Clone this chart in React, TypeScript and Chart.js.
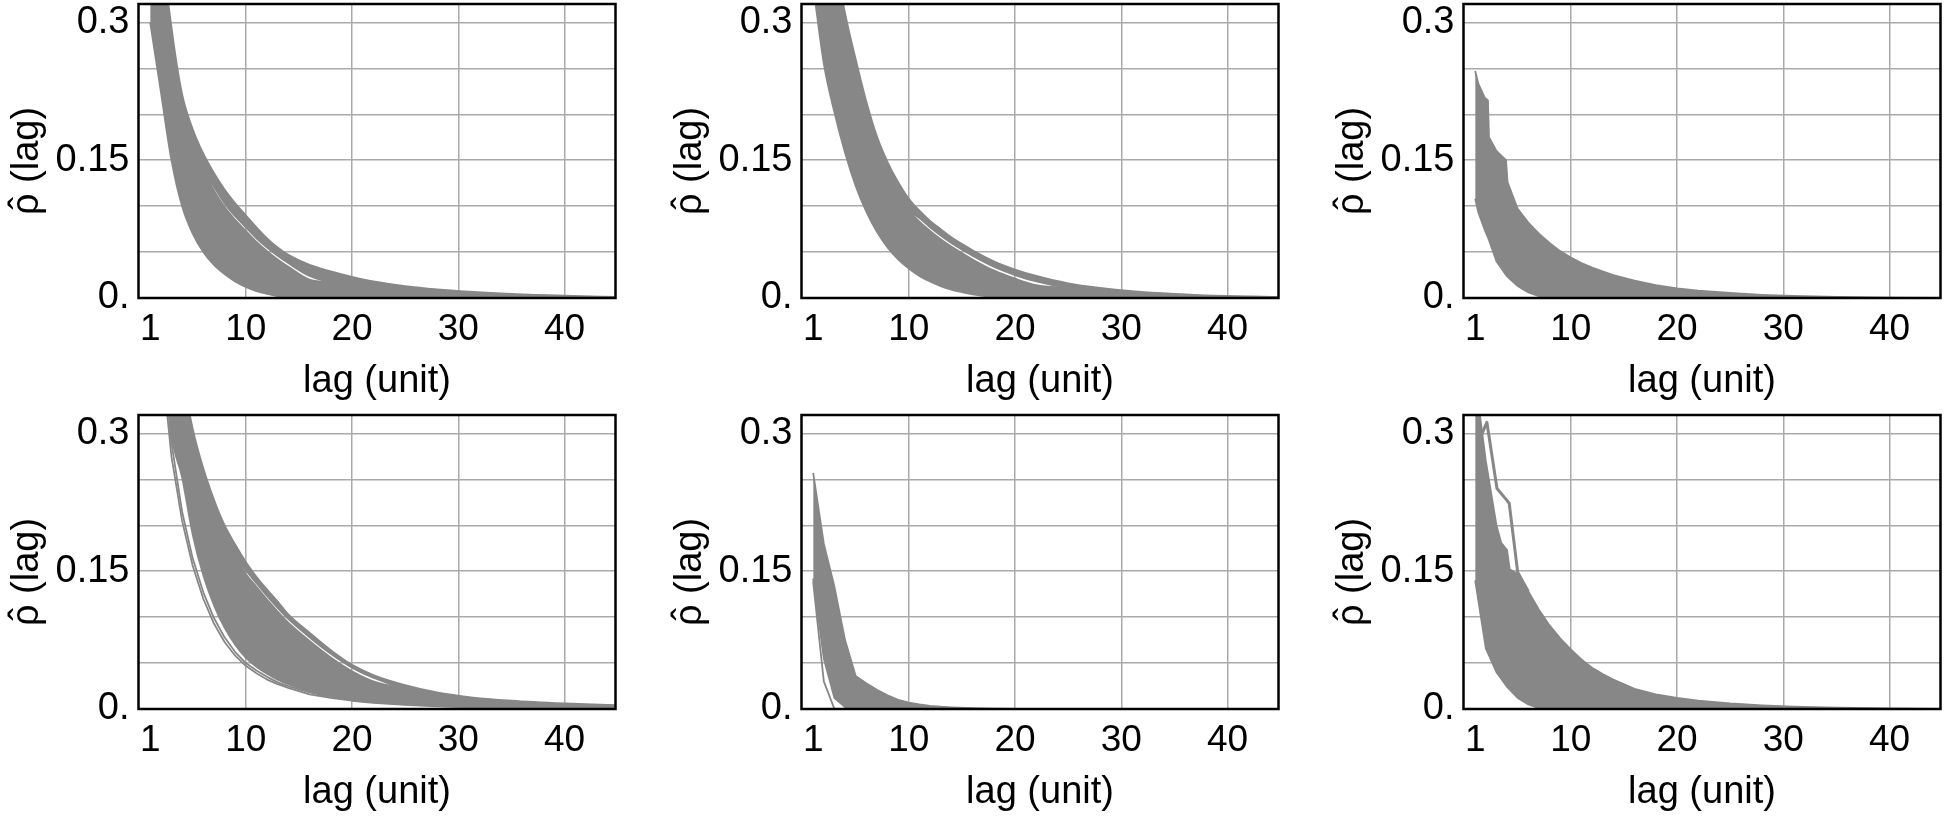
import React, { useEffect, useRef } from 'react';
import { Chart, registerables } from 'chart.js';

Chart.register(...registerables);
const FONT_FAMILY = "'Liberation Sans', Arial, sans-serif";
Chart.defaults.font.family = FONT_FAMILY;

// ---------- axes ----------
const X_TICKS = [1, 10, 20, 30, 40];
const X_MIN = -0.1;
const X_MAX = 44.8;
const Y_MIN = 0;
const Y_MAX = 0.32;
const Y_GRID_STEP = 0.05;
const Y_TICK_LABELS: Record<number, string> = { 0: '0.', 15: '0.15', 30: '0.3' };
const X_TITLE = 'lag (unit)';
const Y_TITLE_SYMBOL = 'ρ';
const Y_TITLE_HAT = '\u02C6';
const Y_TITLE_REST = ' (lag)';

// common lag grid
const LAGS = [1, 2, 3, 4, 5, 6, 7, 8, 9, 10, 11, 12, 13, 14, 16, 18, 20, 22, 25, 28, 31, 35, 40, 45];

// ---------- panel 1 (top left) ----------
const P1_LOWER = [0.300, 0.225, 0.150, 0.100, 0.070, 0.050, 0.036, 0.026, 0.018, 0.012, 0.0075, 0.0045, 0.0020, 0.0008, 0, 0, 0, 0, 0, 0, 0, 0, 0, 0];
const P1_GAP_BELOW = [0.45, 0.33, 0.25, 0.19, 0.16, 0.138, 0.117, 0.099, 0.085, 0.073, 0.061, 0.051, 0.042, 0.034, 0.020, 0.017, 0.012, 0.009, 0.0065, 0.0045, 0.003, 0.0018, 0.0009, 0.0004];
const P1_GAP_ABOVE = [0.45, 0.33, 0.25, 0.19, 0.16, 0.138, 0.121, 0.103, 0.089, 0.077, 0.065, 0.055, 0.046, 0.038, 0.024, 0.017, 0.012, 0.009, 0.0065, 0.0045, 0.003, 0.0018, 0.0009, 0.0004];
const P1_UPPER = [0.60, 0.40, 0.295, 0.222, 0.184, 0.157, 0.136, 0.118, 0.103, 0.090, 0.077, 0.065, 0.055, 0.047, 0.036, 0.029, 0.023, 0.018, 0.013, 0.0095, 0.007, 0.0045, 0.0025, 0.0012];

// ---------- panel 2 (top middle) ----------
const P2_LOWER = [0.340, 0.255, 0.202, 0.158, 0.122, 0.094, 0.072, 0.055, 0.042, 0.032, 0.024, 0.018, 0.013, 0.009, 0.004, 0.001, 0, 0, 0, 0, 0, 0, 0, 0];
const P2_GAP_BELOW = [0.50, 0.40, 0.33, 0.27, 0.225, 0.185, 0.152, 0.128, 0.110, 0.095, 0.083, 0.073, 0.064, 0.056, 0.042, 0.030, 0.021, 0.014, 0.011, 0.008, 0.005, 0.003, 0.0015, 0.0007];
const P2_GAP_ABOVE = [0.50, 0.40, 0.33, 0.27, 0.225, 0.185, 0.152, 0.128, 0.110, 0.095, 0.087, 0.077, 0.068, 0.060, 0.046, 0.034, 0.025, 0.018, 0.011, 0.008, 0.005, 0.003, 0.0015, 0.0007];
const P2_UPPER = [0.64, 0.48, 0.375, 0.31, 0.26, 0.214, 0.176, 0.148, 0.126, 0.108, 0.095, 0.084, 0.075, 0.066, 0.052, 0.040, 0.031, 0.024, 0.016, 0.011, 0.0075, 0.0045, 0.0022, 0.001];

// ---------- panel 3 (top right) ----------
const P3_LAGS = [1, 1.3, 1.9, 2.2, 2.3, 3, 3.9, 4.05, 5, 6, 7, 8, 9, 10, 11, 12, 14, 16, 18, 20, 22, 25, 28, 31, 35, 40, 45];
const P3_LOWER = [0.108, 0.093, 0.074, 0.066, 0.063, 0.040, 0.025, 0.023, 0.013, 0.006, 0.002, 0.0005, 0, 0, 0, 0, 0, 0, 0, 0, 0, 0, 0, 0, 0, 0, 0];
const P3_UPPER = [0.247, 0.233, 0.218, 0.215, 0.175, 0.160, 0.150, 0.126, 0.097, 0.082, 0.070, 0.060, 0.051, 0.044, 0.038, 0.033, 0.025, 0.019, 0.014, 0.0105, 0.008, 0.0055, 0.0035, 0.0022, 0.0012, 0.0005, 0.0002];

// ---------- panel 4 (bottom left) ----------
const P4_PAIR_A = [0.62, 0.39, 0.275, 0.205, 0.156, 0.120, 0.093, 0.073, 0.058, 0.047, 0.039, 0.032, 0.027, 0.023, 0.016, 0.012, 0.009, 0.0068, 0.0045, 0.003, 0.002, 0.001, 0.0005, 0.0002];
const P4_PAIR_B = [0.66, 0.41, 0.290, 0.215, 0.164, 0.127, 0.099, 0.078, 0.062, 0.050, 0.042, 0.035, 0.029, 0.025, 0.018, 0.013, 0.010, 0.0075, 0.005, 0.0033, 0.0022, 0.0012, 0.0006, 0.0003];
const P4_MAIN_LOWER = [0.70, 0.43, 0.300, 0.2525, 0.190, 0.1455, 0.113, 0.0885, 0.070, 0.056, 0.046, 0.0385, 0.032, 0.027, 0.0195, 0.0142, 0.011, 0.0082, 0.0055, 0.0037, 0.0025, 0.0014, 0.0007, 0.0004];
const P4_GAP_BELOW = [0.78, 0.52, 0.40, 0.31, 0.255, 0.225, 0.200, 0.182, 0.166, 0.147, 0.133, 0.119, 0.106, 0.094, 0.074, 0.056, 0.041, 0.030, 0.022, 0.015, 0.011, 0.0075, 0.005, 0.0033];
const P4_GAP_ABOVE = [0.78, 0.52, 0.40, 0.31, 0.255, 0.225, 0.200, 0.182, 0.166, 0.151, 0.137, 0.123, 0.110, 0.098, 0.078, 0.060, 0.045, 0.034, 0.022, 0.015, 0.011, 0.0075, 0.005, 0.0033];
const P4_UPPER = [0.85, 0.60, 0.48, 0.37, 0.305, 0.262, 0.228, 0.200, 0.179, 0.160, 0.144, 0.130, 0.117, 0.103, 0.083, 0.064, 0.048, 0.037, 0.026, 0.018, 0.013, 0.009, 0.006, 0.004];

// ---------- panel 5 (bottom middle) ----------
const P5_SEPARATE = [0.138, 0.030, 0, 0, 0, 0, 0, 0, 0, 0, 0, 0, 0, 0, 0, 0, 0, 0, 0, 0, 0, 0, 0, 0];
const P5_LOWER = [0.142, 0.055, 0.012, 0.002, 0, 0, 0, 0, 0, 0, 0, 0, 0, 0, 0, 0, 0, 0, 0, 0, 0, 0, 0, 0];
const P5_UPPER = [0.257, 0.180, 0.133, 0.075, 0.036, 0.028, 0.021, 0.015, 0.010, 0.007, 0.005, 0.0035, 0.0025, 0.0018, 0.0008, 0.0003, 0.0001, 0, 0, 0, 0, 0, 0, 0];

// ---------- panel 6 (bottom right) ----------
const P6_LAGS = [1, 2, 3, 3.45, 4, 4.25, 5, 6, 7, 8, 9, 10, 11, 12, 13, 14, 16, 18, 20, 22, 25, 28, 31, 35, 40, 45];
const P6_LOWER = [0.14, 0.066, 0.040, 0.033, 0.024, 0.021, 0.012, 0.005, 0.001, 0, 0, 0, 0, 0, 0, 0, 0, 0, 0, 0, 0, 0, 0, 0, 0, 0];
const P6_UPPER = [0.36, 0.27, 0.20, 0.181, 0.173, 0.152, 0.147, 0.128, 0.108, 0.091, 0.077, 0.065, 0.054, 0.045, 0.038, 0.032, 0.022, 0.016, 0.012, 0.009, 0.006, 0.004, 0.0025, 0.0014, 0.0006, 0.0002];
const P6_OUTLIER_LAGS = [1, 1.5, 2.1, 3.05, 3.85, 4.2, 5, 6];
const P6_OUTLIER = [0.345, 0.296, 0.312, 0.240, 0.229, 0.224, 0.149, 0.128];

// ---------- styling ----------
const CURVE_COLOR = '#878787';
const GRID_COLOR = '#aaaaaa';
const LINE_W = 1.8;
const OUTLIER_W = 3;
const TICK_FONT = 37;
const TITLE_FONT = 38;

type Series = { lags: number[]; values: number[]; width?: number };
type PanelSpec = { bands: Array<[Series, Series]>; lines: Series[]; smooth: boolean };

const s = (lags: number[], values: number[], width?: number): Series => ({ lags, values, width });

const PANELS: PanelSpec[] = [
  { smooth: true, bands: [[s(LAGS, P1_LOWER), s(LAGS, P1_GAP_BELOW)], [s(LAGS, P1_GAP_ABOVE), s(LAGS, P1_UPPER)]], lines: [] },
  { smooth: true, bands: [[s(LAGS, P2_LOWER), s(LAGS, P2_GAP_BELOW)], [s(LAGS, P2_GAP_ABOVE), s(LAGS, P2_UPPER)]], lines: [] },
  { smooth: false, bands: [[s(P3_LAGS, P3_LOWER), s(P3_LAGS, P3_UPPER)]], lines: [] },
  {
    smooth: true,
    bands: [[s(LAGS, P4_MAIN_LOWER), s(LAGS, P4_GAP_BELOW)], [s(LAGS, P4_GAP_ABOVE), s(LAGS, P4_UPPER)]],
    lines: [s(LAGS, P4_PAIR_A), s(LAGS, P4_PAIR_B)],
  },
  { smooth: false, bands: [[s(LAGS, P5_LOWER), s(LAGS, P5_UPPER)]], lines: [s(LAGS, P5_SEPARATE)] },
  { smooth: false, bands: [[s(P6_LAGS, P6_LOWER), s(P6_LAGS, P6_UPPER)]], lines: [s(P6_OUTLIER_LAGS, P6_OUTLIER, OUTLIER_W)] },
];

// layout of the canvases on the page
const CANVAS_W = 621;
const CANVAS_H = 409;
const COL_LEFT = [0, 663, 1325];
const ROW_TOP = [0, 411];
const Y_TITLE_X = 28;

const framePlugin = {
  id: 'frame',
  afterDraw(chart: any) {
    const { ctx, chartArea: a } = chart;
    ctx.save();
    ctx.strokeStyle = '#000';
    ctx.lineWidth = 2.5;
    ctx.strokeRect(a.left, a.top, a.right - a.left, a.bottom - a.top);
    // y-axis title: rho with a hat, then " (lag)"
    const cy = (a.top + a.bottom) / 2 + 10;
    ctx.translate(Y_TITLE_X, cy);
    ctx.rotate(-Math.PI / 2);
    ctx.font = `${TITLE_FONT}px ${FONT_FAMILY}`;
    ctx.fillStyle = '#000';
    ctx.textBaseline = 'alphabetic';
    ctx.textAlign = 'left';
    const wRho = ctx.measureText(Y_TITLE_SYMBOL).width;
    const wRest = ctx.measureText(Y_TITLE_REST).width;
    const start = -(wRho + wRest) / 2;
    const base = TITLE_FONT * 0.255;
    ctx.fillText(Y_TITLE_SYMBOL, start, base);
    ctx.fillText(Y_TITLE_REST, start + wRho, base);
    ctx.textAlign = 'center';
    ctx.fillText(Y_TITLE_HAT, start + wRho / 2 + 1, base - TITLE_FONT * 0.05);
    ctx.restore();
  },
};

function toPoints(se: Series) {
  return se.lags.map((x, i) => ({ x, y: se.values[i] }));
}

function buildDatasets(panel: PanelSpec) {
  const ds: any[] = [];
  const base: any = {
    borderColor: CURVE_COLOR,
    backgroundColor: CURVE_COLOR,
    borderWidth: LINE_W,
    pointRadius: 0,
    borderJoinStyle: 'round',
  };
  if (panel.smooth) base.cubicInterpolationMode = 'monotone';
  else base.tension = 0;
  panel.bands.forEach(([lo, hi]) => {
    ds.push({ ...base, data: toPoints(lo), fill: false });
    ds.push({ ...base, data: toPoints(hi), fill: '-1' });
  });
  panel.lines.forEach((ln) =>
    ds.push({ ...base, data: toPoints(ln), fill: false, borderWidth: ln.width ?? LINE_W, cubicInterpolationMode: 'default', tension: 0 })
  );
  return ds;
}

function PanelChart({ panel, left, top }: { panel: PanelSpec; left: number; top: number }) {
  const ref = useRef<HTMLCanvasElement>(null);
  useEffect(() => {
    if (!ref.current) return;
    const chart = new Chart(ref.current, {
      type: 'line',
      data: { datasets: buildDatasets(panel) },
      options: {
        responsive: false,
        maintainAspectRatio: false,
        animation: false,
        events: [],
        layout: { padding: { left: 0, top: 4, right: 5.5, bottom: 0 } },
        plugins: { legend: { display: false }, tooltip: { enabled: false } },
        scales: {
          x: {
            type: 'linear',
            min: X_MIN,
            max: X_MAX,
            afterBuildTicks: (sc: any) => {
              sc.ticks = X_TICKS.map((v) => ({ value: v }));
            },
            afterFit: (sc: any) => {
              sc.height = 111;
              sc.paddingLeft = 0;
              sc.paddingRight = 0;
            },
            ticks: {
              autoSkip: false,
              maxRotation: 0,
              color: '#000',
              font: { size: TICK_FONT },
              padding: 10,
              callback: (v: any) => String(v),
            },
            grid: {
              color: (c: any) => (c.tick && c.tick.value === 1 ? 'rgba(0,0,0,0)' : GRID_COLOR),
              lineWidth: 1.5,
              drawTicks: false,
            },
            border: { display: false },
            title: {
              display: true,
              text: X_TITLE,
              color: '#000',
              font: { size: TITLE_FONT },
              padding: { top: 0, bottom: 4.4 },
            },
          },
          y: {
            type: 'linear',
            min: Y_MIN,
            max: Y_MAX,
            afterFit: (sc: any) => {
              sc.width = 138.5;
              sc.paddingTop = 0;
              sc.paddingBottom = 0;
            },
            ticks: {
              stepSize: Y_GRID_STEP,
              includeBounds: false,
              color: '#000',
              font: { size: TICK_FONT + 1 },
              padding: 9,
              callback: (v: any) => {
                const k = Math.round(Number(v) * 100);
                return Y_TICK_LABELS[k] ?? '';
              },
            },
            grid: { color: GRID_COLOR, lineWidth: 1.5, drawTicks: false },
            border: { display: false },
            title: { display: false },
          },
        },
      } as any,
      plugins: [framePlugin],
    });
    return () => chart.destroy();
  }, [panel]);
  return (
    <canvas
      ref={ref}
      width={CANVAS_W}
      height={CANVAS_H}
      style={{ position: 'absolute', left, top, width: CANVAS_W, height: CANVAS_H }}
    />
  );
}

export default function App() {
  return (
    <div
      style={{
        position: 'absolute',
        left: 0,
        top: 0,
        width: 1946,
        height: 820,
        overflow: 'hidden',
        background: '#fff',
      }}
    >
      {PANELS.map((p, i) => (
        <PanelChart key={i} panel={p} left={COL_LEFT[i % 3]} top={ROW_TOP[Math.floor(i / 3)]} />
      ))}
    </div>
  );
}
